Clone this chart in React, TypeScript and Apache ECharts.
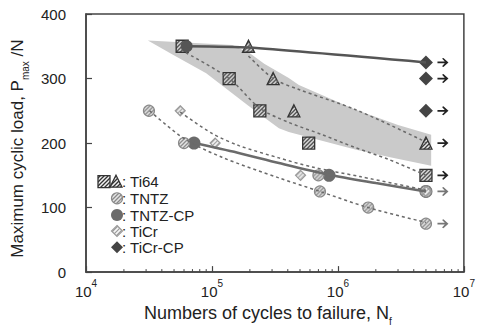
import React, { useEffect, useRef } from 'react';
import * as echarts from 'echarts';

// ---- data (cycles to failure, max cyclic load N) ----
const ti64Square = [[5.8e4, 350], [1.37e5, 300], [2.4e5, 250], [5.86e5, 200], [5e6, 150]];
const ti64Triangle = [[1.95e5, 350], [3.06e5, 300], [4.47e5, 250], [5e6, 200]];
const tntz = [[3.16e4, 250], [6e4, 200], [7e5, 150], [7.2e5, 125], [1.74e6, 100], [5e6, 75], [5e6, 125]];
const tntzCp = [[7.2e4, 200], [8.5e5, 150], [5e6, 125]];
const ticr = [[5.6e4, 250], [1.06e5, 200], [5.05e5, 150], [5e6, 125]];
const ticrCp = [[5e6, 325], [5e6, 300], [5e6, 250]];
const runoutDark = [[5e6, 325], [5e6, 300], [5e6, 250], [5e6, 200], [5e6, 150]];
const runoutGray = [[5e6, 125], [5e6, 75]];

// fitted curves
const ticrCpLine = [[6.3e4, 350], [1.95e5, 348], [5e6, 325]];
const tntzCpLine = [[7.2e4, 200], [1.6e5, 185], [3.4e5, 169], [8.5e5, 151], [2e6, 138], [5e6, 125]];
const ti64SquareFit = [[6.2e4, 340], [1.37e5, 300], [2.4e5, 254], [4.07e5, 232], [7.5e5, 213], [1.37e6, 193], [2.5e6, 175], [5e6, 150]];
const ti64TriangleFit = [[1.95e5, 335], [3.06e5, 300], [4.9e5, 283], [1.37e6, 252], [4.6e6, 205], [5e6, 200]];
const tntzFit = [[3.2e4, 250], [6e4, 207], [1.2e5, 178], [3.4e5, 146], [7.2e5, 125], [1.74e6, 100], [5e6, 77]];
const ticrFit = [[5.6e4, 248], [1.0e5, 215], [1.64e5, 196], [3.4e5, 177], [6.2e5, 163], [1.5e6, 148], [5e6, 127]];

// scatter band
const bandUpper = [[3.1e4, 359], [1.45e5, 352], [2.0e5, 339], [2.6e5, 323], [4.07e5, 301], [4.9e5, 290], [1.37e6, 252], [3.0e6, 228], [5.5e6, 213]];
const bandLower = [[3.1e4, 359], [4.9e4, 337], [9e4, 308], [1.97e5, 257], [3.4e5, 223], [4.07e5, 217], [1.37e6, 190], [2.6e6, 178], [5.5e6, 165]];

// axis
const yTicks = [0, 100, 200, 300, 400];
const minorMultipliers = [2, 3, 4, 5, 6, 7, 8, 9];
const decadeStarts = [1e4, 1e5, 1e6];

const legendItems = ['Ti64', 'TNTZ', 'TNTZ-CP', 'TiCr', 'TiCr-CP'];

const FONT = 'Liberation Sans, Arial, sans-serif';

function makeHatch(bg: string, fg: string, lw: number, scale = 1) {
  const s = 4;
  const c = document.createElement('canvas');
  c.width = s;
  c.height = s;
  const ctx = c.getContext('2d')!;
  ctx.fillStyle = bg;
  ctx.fillRect(0, 0, s, s);
  ctx.strokeStyle = fg;
  ctx.lineWidth = lw;
  ctx.beginPath();
  ctx.moveTo(-1, s + 1);
  ctx.lineTo(s + 1, -1);
  ctx.moveTo(-1, 1);
  ctx.lineTo(1, -1);
  ctx.moveTo(s - 1, s + 1);
  ctx.lineTo(s + 1, s - 1);
  ctx.stroke();
  return { image: c, repeat: 'repeat', imageWidth: s, imageHeight: s, scaleX: scale, scaleY: scale } as any;
}

const ARROW = 'path://M0,4 L8,4 L5,0.8 L6.5,0 L12,5 L6.5,10 L5,9.2 L8,6 L0,6 Z';

const SQ = 12;
const TRI = 12;
const CIR = 11;
const DIA = 10;

export default function App() {
  const ref = useRef<HTMLDivElement>(null);
  useEffect(() => {
    if (!ref.current) return;
    const chart = echarts.init(ref.current, undefined, { renderer: 'svg' });
    const hTi = makeHatch('#f2f2f2', '#333', 1.3);
    const hTntz = makeHatch('#e6e6e6', '#8a8a8a', 1.3);
    const hTicr = makeHatch('#f6f6f6', '#9a9a9a', 1.2);

    const minorTicks: number[][] = [];
    decadeStarts.forEach((d) => minorMultipliers.forEach((m) => minorTicks.push([m * d, 0])));

    const dashed = (data: number[][]) => ({
      type: 'line',
      data,
      symbol: 'none',
      smooth: 0.3,
      lineStyle: { color: '#6a6a6a', width: 1.5, type: [3, 3] },
      silent: true,
    });

    const legendY = [181.7, 198.3, 215, 231, 247.3];
    const mx = 117;
    const graphic: any[] = [
      { type: 'rect', shape: { x: 98, y: legendY[0] - 6, width: 12, height: 12 }, style: { fill: hTi, stroke: '#333', lineWidth: 1.3 } },
      { type: 'polygon', shape: { points: [[mx - 1, legendY[0] - 6.5], [mx + 5, legendY[0] + 5.5], [mx - 7, legendY[0] + 5.5]] }, style: { fill: hTi, stroke: '#333', lineWidth: 1.3 } },
      { type: 'circle', shape: { cx: mx, cy: legendY[1], r: 5.5 }, style: { fill: hTntz, stroke: '#8a8a8a', lineWidth: 1.2 } },
      { type: 'circle', shape: { cx: mx, cy: legendY[2], r: 6 }, style: { fill: '#6b6b6b' } },
      { type: 'polygon', shape: { points: [[mx, legendY[3] - 5.5], [mx + 5.5, legendY[3]], [mx, legendY[3] + 5.5], [mx - 5.5, legendY[3]]] }, style: { fill: hTicr, stroke: '#9a9a9a', lineWidth: 1.2 } },
      { type: 'polygon', shape: { points: [[mx, legendY[4] - 6], [mx + 6, legendY[4]], [mx, legendY[4] + 6], [mx - 6, legendY[4]]] }, style: { fill: '#444' } },
    ];
    legendItems.forEach((name, i) => {
      graphic.push({
        type: 'text',
        x: 122,
        y: legendY[i],
        style: { text: ': ' + name, fill: '#222', font: `15px ${FONT}`, verticalAlign: 'middle', align: 'left' },
      });
    });

    chart.setOption({
      animation: false,
      backgroundColor: '#fff',
      textStyle: { fontFamily: FONT },
      grid: { left: 86, right: 12, top: 14, bottom: 58, show: true, borderColor: '#444', borderWidth: 1.5, backgroundColor: 'transparent' },
      xAxis: {
        type: 'log',
        logBase: 10,
        min: 1e4,
        max: 1e7,
        name: 'Numbers of cycles to failure, N{s|f}',
        nameLocation: 'middle',
        nameGap: 31,
        nameTextStyle: {
          fontSize: 18, color: '#222', fontFamily: FONT, padding: [0, 14, 0, 0],
          rich: { s: { fontSize: 10, lineHeight: 10, verticalAlign: 'top', padding: [12, 0, 0, 0], color: '#222', fontFamily: FONT } },
        },
        axisLine: { show: true, lineStyle: { color: '#444', width: 1.5 } },
        axisTick: { show: true, inside: true, length: 6, lineStyle: { color: '#444', width: 1.2 } },
        minorTick: { show: false },
        splitLine: { show: false },
        axisLabel: {
          margin: 6,
          formatter: (v: number) => `{b|10}{p|${Math.round(Math.log10(v))}}`,
          rich: {
            b: { fontSize: 15, color: '#222', fontFamily: FONT, lineHeight: 21, verticalAlign: 'bottom' },
            p: { fontSize: 10, color: '#222', fontFamily: FONT, lineHeight: 10, verticalAlign: 'top' },
          },
        },
      },
      yAxis: {
        type: 'value',
        min: yTicks[0],
        max: yTicks[yTicks.length - 1],
        interval: 100,
        name: 'Maximum cyclic load, P{s|max} /N',
        nameLocation: 'middle',
        nameGap: 57,
        nameTextStyle: {
          fontSize: 17, color: '#222', fontFamily: FONT, padding: [0, 11, 0, 0],
          rich: { s: { fontSize: 10, lineHeight: 10, verticalAlign: 'top', padding: [11, 0, 0, 0], color: '#222', fontFamily: FONT } },
        },
        axisLine: { show: true, lineStyle: { color: '#444', width: 1.5 } },
        axisTick: { show: true, inside: true, length: 6, lineStyle: { color: '#444', width: 1.2 } },
        splitLine: { show: false },
        axisLabel: { fontSize: 15, color: '#222', margin: 20, fontFamily: FONT },
      },
      graphic,
      series: [
        {
          type: 'custom',
          data: minorTicks,
          silent: true,
          clip: false,
          z: 3,
          renderItem: (params: any, api: any) => {
            const p = api.coord([api.value(0), api.value(1)]);
            return { type: 'line', shape: { x1: p[0], y1: p[1], x2: p[0], y2: p[1] - 3 }, style: { stroke: '#444', lineWidth: 1 } };
          },
        },
        {
          type: 'custom',
          data: [bandUpper[0]],
          silent: true,
          z: 1,
          renderItem: (params: any, api: any) => {
            const pts = [...bandUpper.map((p) => api.coord(p)), ...bandLower.slice().reverse().map((p) => api.coord(p))];
            return { type: 'polygon', shape: { points: pts, smooth: 0 }, style: { fill: '#cacaca' } };
          },
        },
        dashed(ti64SquareFit),
        dashed(ti64TriangleFit),
        dashed(tntzFit),
        dashed(ticrFit),
        { type: 'line', data: ticrCpLine, symbol: 'none', smooth: 0.2, lineStyle: { color: '#555', width: 2.5 }, silent: true },
        { type: 'line', data: tntzCpLine, symbol: 'none', smooth: 0.3, lineStyle: { color: '#6b6b6b', width: 2.5 }, silent: true },
        { type: 'scatter', data: ti64Square, symbol: 'rect', symbolSize: SQ, itemStyle: { color: makeHatch('#f2f2f2', '#333', 1.3, 2 / SQ), borderColor: '#333', borderWidth: 1.3, opacity: 1 } },
        { type: 'scatter', data: [ticrCpLine[0]], symbol: 'circle', symbolSize: 12, itemStyle: { color: '#555', opacity: 1 } },
        { type: 'scatter', data: ti64Triangle, symbol: 'triangle', symbolSize: TRI, itemStyle: { color: makeHatch('#f2f2f2', '#333', 1.3, 2 / TRI), borderColor: '#333', borderWidth: 1.3, opacity: 1 } },
        { type: 'scatter', data: tntzCp, symbol: 'circle', symbolSize: 13, itemStyle: { color: '#6b6b6b', opacity: 1 } },
        { type: 'scatter', data: tntz, symbol: 'circle', symbolSize: CIR, itemStyle: { color: makeHatch('#e6e6e6', '#8a8a8a', 1.3, 2 / CIR), borderColor: '#8a8a8a', borderWidth: 1.2, opacity: 1 } },
        { type: 'scatter', data: ticr, symbol: 'diamond', symbolSize: DIA, itemStyle: { color: makeHatch('#f6f6f6', '#9a9a9a', 1.2, 2 / DIA), borderColor: '#9a9a9a', borderWidth: 1.2, opacity: 1 } },
        { type: 'scatter', data: ticrCp, symbol: 'diamond', symbolSize: 14, itemStyle: { color: '#444', opacity: 1 } },
        { type: 'scatter', data: runoutDark, symbol: ARROW, symbolSize: [11, 9], symbolOffset: [17, 0], itemStyle: { color: '#222', opacity: 1 } },
        { type: 'scatter', data: runoutGray, symbol: ARROW, symbolSize: [11, 9], symbolOffset: [17, 0], itemStyle: { color: '#777', opacity: 1 } },
      ],
    });
    return () => chart.dispose();
  }, []);
  return <div ref={ref} style={{ width: 478, height: 331, position: 'absolute', left: 0, top: 0 }} />;
}
